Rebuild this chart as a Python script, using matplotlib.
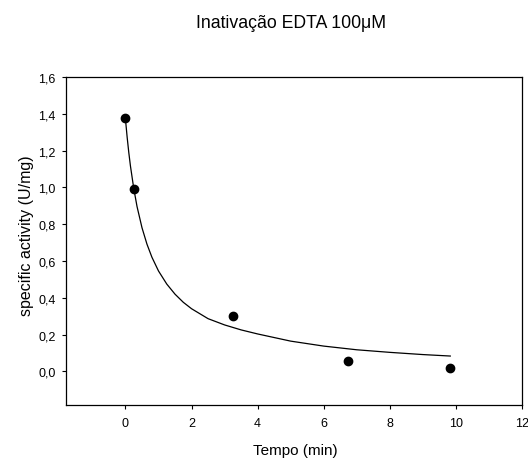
import matplotlib
matplotlib.use('Agg')
import matplotlib.pyplot as plt
from matplotlib.ticker import FuncFormatter

plt.rcParams['font.family'] = ['Liberation Sans', 'DejaVu Sans']

# measured points
tempo = [0, 0.25, 3.24, 6.72, 9.81]
atividade = [1.38, 0.99, 0.30, 0.055, 0.02]

# fitted curve
curva_x = [0, 0.05, 0.1, 0.15, 0.25, 0.35, 0.5, 0.65, 0.8, 1.0, 1.25, 1.5, 1.75,
           2.0, 2.5, 3.0, 3.5, 4.0, 5.0, 6.0, 7.0, 8.0, 9.0, 9.83]
curva_y = [1.37, 1.274, 1.19, 1.117, 0.995, 0.896, 0.781, 0.692, 0.621, 0.546, 0.475, 0.42, 0.376,
           0.341, 0.287, 0.253, 0.226, 0.204, 0.165, 0.138, 0.118, 0.104, 0.092, 0.084]

xticks = [0, 2, 4, 6, 8, 10, 12]
yticks = [0.0, 0.2, 0.4, 0.6, 0.8, 1.0, 1.2, 1.4, 1.6]

fig = plt.figure(figsize=(5.28, 4.6), dpi=100)
ax = fig.add_axes([0.125, 0.1174, 0.8636, 0.713])

ax.plot(curva_x, curva_y, color='black', lw=0.9)
ax.plot(tempo, atividade, 'o', color='black', markersize=6)

ax.set_xlim(-1.8, 12)
ax.set_ylim(-0.182, 1.6)
ax.set_xticks(xticks)
ax.set_yticks(yticks)
ax.xaxis.set_major_formatter(FuncFormatter(lambda v, p: '%d' % v))
ax.yaxis.set_major_formatter(FuncFormatter(lambda v, p: ('%.1f' % v).replace('.', ',')))
ax.tick_params(direction='out', length=3, width=0.8, labelsize=9)
ax.tick_params(axis='x', pad=6)
ax.tick_params(axis='y', pad=4.5)
for s in ax.spines.values():
    s.set_linewidth(0.9)

ax.set_xlabel('Tempo (min)', fontsize=11, va='top', ha='center')
ax.xaxis.set_label_coords(0.502, -0.115)
ax.set_ylabel('specific activity (U/mg)', fontsize=11.5, va='center', ha='center')
ax.yaxis.set_label_coords(-0.086, 0.52)
fig.text(0.551, 0.948, 'Inativação EDTA 100\u03bcM', ha='center', va='center', fontsize=12.7)

fig.savefig('out.png', dpi=100)
